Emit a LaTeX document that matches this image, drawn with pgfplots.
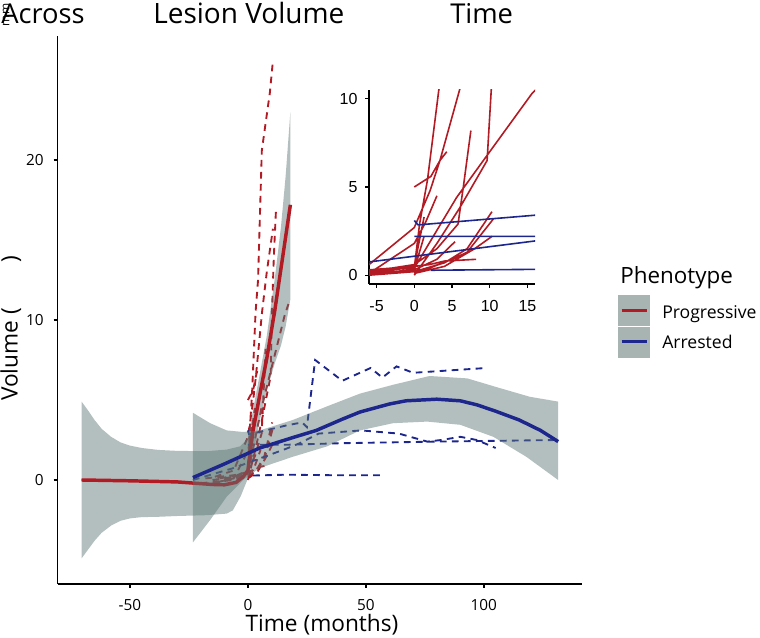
\documentclass[border=0pt]{standalone}
\usepackage{pgfplots}
\pgfplotsset{compat=1.18}
\usepackage{pgfplotstable}
\usepackage{fontspec}
\setmainfont{Open Sans}
\newfontfamily\insetfont{Liberation Sans}

\definecolor{progred}{RGB}{178,26,36}
\definecolor{arrblue}{RGB}{28,38,140}
\definecolor{bandgray}{RGB}{92,119,117}
\definecolor{keygray}{RGB}{168,180,178}

% individual patients, one block each, separated by nan rows
\pgfplotstableread{
x y
-70.5 0.0
-50 -0.05
-30 -0.12
-15 -0.3
-6 0.1
0 0.5
2 0.6
4 0.8
8.2 0.9
nan nan
-12 0.1
0 0.4
0.7 2.9
1.75 5.4
3.25 10.5
4.3 12.5
5.9 20.6
9.3 24.2
10.6 26.2
nan nan
-14 0.2
-6 0.6
0 2.7
2.1 4.8
3.4 6.5
6 10.5
8 13
10.6 15.7
nan nan
0 0.0
3 1.8
6 3.8
9.65 6.5
10.2 10.5
11 14
11.9 16.9
nan nan
-15 0.0
-6 0.2
0 0.6
3 1.5
5.8 2.9
6.5 5.0
7.5 8.2
nan nan
0 0.4
5.6 4.4
10 7.0
15.6 10.3
17.2 11.0
nan nan
0 5.0
1.1 5.3
2.2 5.6
3.4 6.5
4.3 7.0
nan nan
-18 0.1
-6 0.3
0 0.5
1.3 3.3
nan nan
-10 0.0
-6 0.1
0 0.3
1.3 2.2
nan nan
-20 -0.2
-6 0.0
0 0.2
4 0.7
7 1.5
10.3 3.6
nan nan
0 0.1
4 0.5
8 1.5
10.3 2.2
nan nan
0 0.3
3 0.9
5.4 1.9
nan nan
-12 -0.1
-6 0.1
0 1.8
1.5 3.0
3 4.5
nan nan
0 0.2
2 0.4
5 0.9
7 1.3
10.5 3.2
}\progtab

\pgfplotstableread{
x y
2.2 0.28
16 0.33
35 0.3
56 0.3
nan nan
0 3.1
0.5 2.85
16 3.4
23 3.6
25 3.3
28.5 7.5
40 6.2
52 7.0
57 6.4
63 7.1
70 6.7
101 7.0
nan nan
0 2.2
16 2.2
40 2.3
80 2.4
131.5 2.5
nan nan
-23.3 0.0
-6 0.75
16 1.94
22 2.3
30 2.9
48 3.1
64 2.9
76 2.4
82 2.5
90 2.7
97 2.5
105 2.0
}\arrtab

\begin{document}
\begin{tikzpicture}
\path[use as bounding box] (0,0) rectangle (570pt,478.5pt);

\begin{axis}[
  at={(43.3pt,40.5pt)}, anchor=south west,
  scale only axis, width=393.2pt, height=411pt,
  xmin=-80.6, xmax=141.6, ymin=-6.5, ymax=27.75,
  axis x line*=bottom, axis y line*=left,
  axis line style={-, line width=1.1pt, black},
  xtick={-50,0,50,100}, xticklabels={-50,0,50,100},
  ytick={0,10,20}, yticklabels={0,10,20},
  tick align=outside, major tick length=3pt,
  tick style={line width=1pt, black},
  xticklabel style={font=\fontsize{11.5}{12}\selectfont, anchor=base, inner sep=0pt, yshift=-17pt},
  yticklabel style={font=\fontsize{11.5}{12}\selectfont, anchor=east, inner sep=0pt, xshift=-7.3pt},
  unbounded coords=jump,
]
% patients
\addplot[progred, line width=1.4pt, dash pattern=on 5pt off 4pt] table {\progtab};
\addplot[arrblue, line width=1.4pt, dash pattern=on 5pt off 4pt] table {\arrtab};

% Progressive smooth
\addplot[fill=bandgray, fill opacity=0.47, draw=none] coordinates {
  (-70.5,4.9) (-68,4.4) (-65,3.75) (-62,3.2) (-58,2.7) (-54,2.35) (-50,2.15)
  (-45,2.0) (-38,1.88) (-30,1.82) (-17.5,1.8)
  (-9,1.9) (-3.4,2.1) (0,2.6) (2.2,4.4) (5,6.6) (8,9.0) (11.4,12.6) (14,15.8)
  (16,19.0) (18,23.0)
  (18,11.3) (16,9.6) (14,8.4) (11.4,7.3) (8,5.6) (5,3.7) (2.2,1.6) (0,0.1)
  (-3,-1.0) (-6.4,-1.9) (-9,-2.1) (-17.5,-2.2) (-30,-2.25) (-38,-2.3) (-45,-2.32)
  (-50,-2.4) (-54,-2.55) (-58,-2.85) (-62,-3.3) (-65,-3.8) (-68,-4.4) (-70.5,-4.9)
} -- cycle;
\addplot[progred, line width=2.6pt] coordinates {
  (-70.5,0.0) (-50,-0.05) (-30,-0.12) (-15,-0.28) (-10,-0.3) (-5,-0.15)
  (-2,0.2) (0,0.6) (1,1.8) (2.2,3.1) (5,5.3) (8,7.6) (11.4,10.6) (14,13.2) (18,17.2)
};

% Arrested smooth
\addplot[fill=bandgray, fill opacity=0.47, draw=none] coordinates {
  (-23.3,4.2) (-16,3.55) (-9,3.1) (-2,3.0) (5,3.1) (19,3.75) (33.5,4.6)
  (47.5,5.4) (61.5,5.95) (77,6.5) (93,6.35) (105.5,5.8) (119.5,5.2) (131.5,4.9)
  (131.5,0.0) (118,1.45) (104,2.7) (90,3.45) (76,3.65) (61.5,3.55) (47.5,3.1)
  (33.5,2.1) (19,1.45) (5,0.75) (-2,0.0) (-9,-1.05) (-16,-2.5) (-23.3,-3.9)
} -- cycle;
\addplot[arrblue, line width=2.6pt] coordinates {
  (-23.3,0.15) (-10,1.0) (5,2.0) (19,2.65) (29,3.1) (40,3.8) (47.5,4.25)
  (60,4.75) (67,4.95) (80,5.05) (90,4.95) (97,4.7) (105,4.3) (115,3.75)
  (124,3.1) (131.5,2.4)
};
\end{axis}

% inset
\begin{axis}[
  at={(276.75pt,265.5pt)}, anchor=south west,
  scale only axis, width=124.5pt, height=145.5pt,
  xmin=-6, xmax=16, ymin=-0.5, ymax=10.5,
  axis x line*=bottom, axis y line*=left,
  axis line style={-, line width=1.1pt, black},
  xtick={-5,0,5,10,15}, xticklabels={-5,0,5,10,15},
  ytick={0,5,10}, yticklabels={0,5,10},
  tick align=outside, major tick length=3pt,
  tick style={line width=1pt, black},
  xticklabel style={font=\insetfont\fontsize{12}{12}\selectfont, anchor=base, inner sep=0pt, yshift=-18pt},
  yticklabel style={font=\insetfont\fontsize{12}{12}\selectfont, anchor=east, inner sep=0pt, xshift=-5.5pt},
  unbounded coords=jump,
]
\addplot[progred, line width=1.2pt] table {\progtab};
\addplot[arrblue, line width=1.2pt] table {\arrtab};
\end{axis}

\begin{scope}[x=0.75pt, y=0.75pt]
% title pieces
\node[anchor=base west, inner sep=0, font=\fontsize{20.5}{22}\selectfont] at (1,614.7) {Across};
\node[anchor=base west, inner sep=0, font=\fontsize{21}{22}\selectfont] at (153,614.7) {Lesion Volume};
\node[anchor=base west, inner sep=0, font=\fontsize{20.5}{22}\selectfont] at (450,614.7) {Time};
\node[rotate=90, inner sep=0, font=\fontsize{9}{9}\selectfont] at (6,623) {mm};
% axis titles
\node[anchor=base, inner sep=0, font=\fontsize{17}{18}\selectfont] at (322,6) {Time (months)};
\node[rotate=90, anchor=base west, inner sep=0, font=\fontsize{17}{18}\selectfont] at (17.5,237) {Volume (};
\node[rotate=90, anchor=base east, inner sep=0, font=\fontsize{17}{18}\selectfont] at (17.5,382) {)};
% legend
\node[anchor=base west, inner sep=0, font=\fontsize{16.8}{18}\selectfont] at (620,354.7) {Phenotype};
\fill[keygray] (618.3,343) rectangle (650,312);
\fill[keygray] (618.3,311) rectangle (650,280);
\draw[progred, line width=2.2pt] (621.7,327.3) -- (646.7,327.3);
\draw[arrblue, line width=2.2pt] (621.7,296.3) -- (646.7,296.3);
\node[anchor=base west, inner sep=0, font=\fontsize{13.2}{14}\selectfont] at (662,319.7) {Progressive};
\node[anchor=base west, inner sep=0, font=\fontsize{13.2}{14}\selectfont] at (662,289) {Arrested};
\end{scope}
\end{tikzpicture}
\end{document}
